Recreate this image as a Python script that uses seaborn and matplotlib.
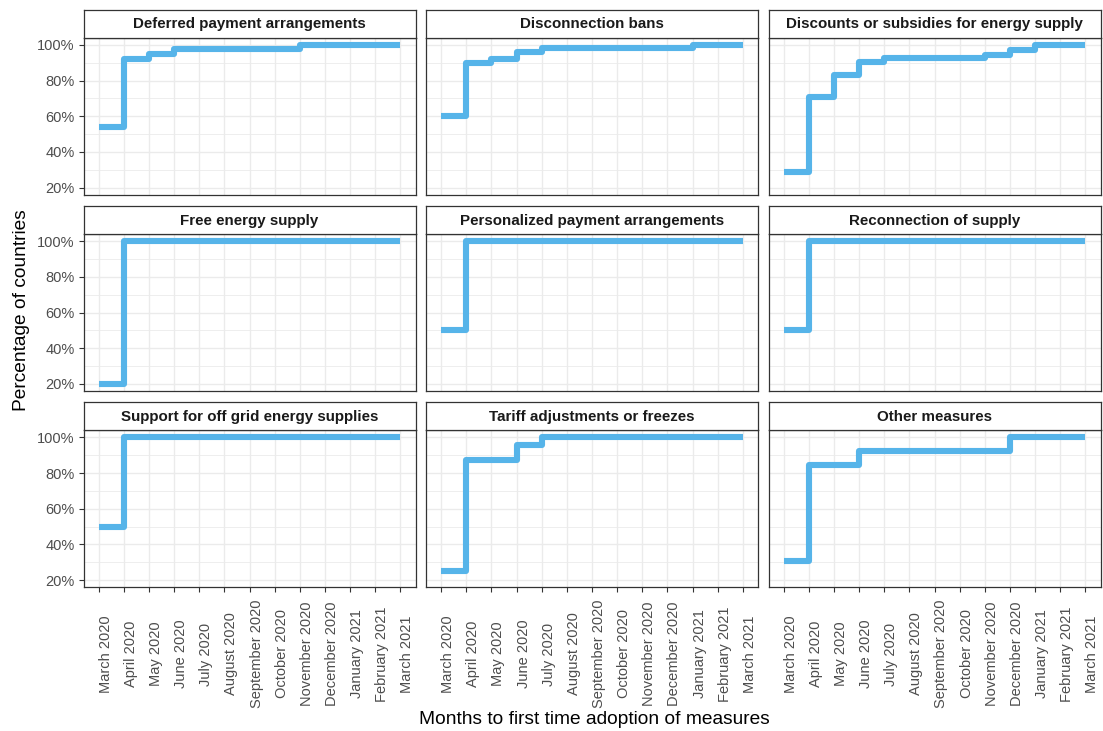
import matplotlib
matplotlib.use("Agg")
import matplotlib.pyplot as plt
from matplotlib.ticker import FixedLocator, PercentFormatter
import seaborn as sns
import pandas as pd

# months on the x axis (categorical, in order)
months = ["March 2020", "April 2020", "May 2020", "June 2020", "July 2020",
          "August 2020", "September 2020", "October 2020", "November 2020",
          "December 2020", "January 2021", "February 2021", "March 2021"]

# facet titles, in panel order
measures = ["Deferred payment arrangements", "Disconnection bans",
            "Discounts or subsidies for energy supply", "Free energy supply",
            "Personalized payment arrangements", "Reconnection of supply",
            "Support for off grid energy supplies", "Tariff adjustments or freezes",
            "Other measures"]

# cumulative % of countries having adopted the measure, by month
deferred = [54, 92, 95, 97.4, 97.4, 97.4, 97.4, 97.4, 100, 100, 100, 100, 100]
disconnection = [60, 90, 92, 96, 98, 98, 98, 98, 98, 98, 100, 100, 100]
discounts = [29, 71, 83, 90.5, 92.5, 92.5, 92.5, 92.5, 94.5, 97, 100, 100, 100]
free_supply = [20, 100, 100, 100, 100, 100, 100, 100, 100, 100, 100, 100, 100]
personalized = [50, 100, 100, 100, 100, 100, 100, 100, 100, 100, 100, 100, 100]
reconnection = [50, 100, 100, 100, 100, 100, 100, 100, 100, 100, 100, 100, 100]
off_grid = [50, 100, 100, 100, 100, 100, 100, 100, 100, 100, 100, 100, 100]
tariff = [25, 87.5, 87.5, 96, 100, 100, 100, 100, 100, 100, 100, 100, 100]
other = [31, 84.6, 84.6, 92.3, 92.3, 92.3, 92.3, 92.3, 92.3, 100, 100, 100, 100]

series = [deferred, disconnection, discounts, free_supply, personalized,
          reconnection, off_grid, tariff, other]

rows = []
for name, vals in zip(measures, series):
    for m, v in zip(months, vals):
        rows.append({"measure": name, "month": m, "pct": v})
df = pd.DataFrame(rows)

sns.set_theme(style="white")
plt.rcParams["font.family"] = ["Liberation Sans", "DejaVu Sans"]

W, H = 1103, 731
fig = plt.figure(figsize=(W / 100, H / 100), dpi=100)


def rect(left, top, w, h):
    return [left / W, 1 - (top + h) / H, w / W, h / H]


col_left = [83.5, 426, 768.5]
row_top = [37.7, 234, 430.3]
pw, ph, sh = 332, 157, 28
border = "#333333"

for i, name in enumerate(measures):
    r, c = divmod(i, 3)
    ax = fig.add_axes(rect(col_left[c], row_top[r], pw, ph))
    sub = df[df["measure"] == name]
    sns.lineplot(data=sub, x="month", y="pct", ax=ax, color="#56B4E9",
                 linewidth=4.4, drawstyle="steps-post", errorbar=None,
                 solid_joinstyle="round", solid_capstyle="butt")

    ax.set_xlim(-0.6, len(months) - 1 + 0.6)
    ax.set_ylim(16, 104)
    ax.yaxis.set_major_locator(FixedLocator([20, 40, 60, 80, 100]))
    ax.yaxis.set_minor_locator(FixedLocator([30, 50, 70, 90]))
    ax.yaxis.set_major_formatter(PercentFormatter(decimals=0))
    ax.set_xticks(range(len(months)))
    ax.grid(which="major", color="#EBEBEB", linewidth=1.0)
    ax.grid(which="minor", axis="y", color="#EBEBEB", linewidth=0.6)
    ax.set_axisbelow(True)
    for s in ax.spines.values():
        s.set_color(border)
        s.set_linewidth(0.9)
    ax.set_xlabel("")
    ax.set_ylabel("")

    ax.tick_params(axis="y", which="major", length=3.5 if c == 0 else 0,
                   width=0.8, color=border, labelsize=10.5,
                   labelcolor="#4D4D4D", pad=3, left=(c == 0), labelleft=(c == 0))
    ax.tick_params(axis="y", which="minor", length=0)
    if r == 2:
        ax.set_xticklabels(months)
        ax.tick_params(axis="x", length=3.5, width=0.8, color=border,
                       labelsize=10.5, labelcolor="#4D4D4D", pad=44.5, bottom=True)
        for lab in ax.get_xticklabels():
            lab.set_rotation(90)
            lab.set_va("center")
            lab.set_ha("left")
    else:
        ax.tick_params(axis="x", length=0, labelbottom=False)

    # facet strip
    sax = fig.add_axes(rect(col_left[c], row_top[r] - sh, pw, sh))
    sax.set_facecolor("white")
    sax.set_xticks([])
    sax.set_yticks([])
    for s in sax.spines.values():
        s.set_color(border)
        s.set_linewidth(0.9)
    sax.text(0.5, 0.48, name, ha="center", va="center", fontsize=10.9,
             fontweight="bold", color="#1A1A1A", transform=sax.transAxes)

fig.text(22 / W, 1 - 310 / H, "Percentage of countries", rotation=90,
         ha="center", va="center", fontsize=13.8, color="black")
fig.text(594 / W, 1 - 720 / H, "Months to first time adoption of measures",
         ha="center", va="center", fontsize=13.8, color="black")

fig.savefig("out.png", dpi=100)
